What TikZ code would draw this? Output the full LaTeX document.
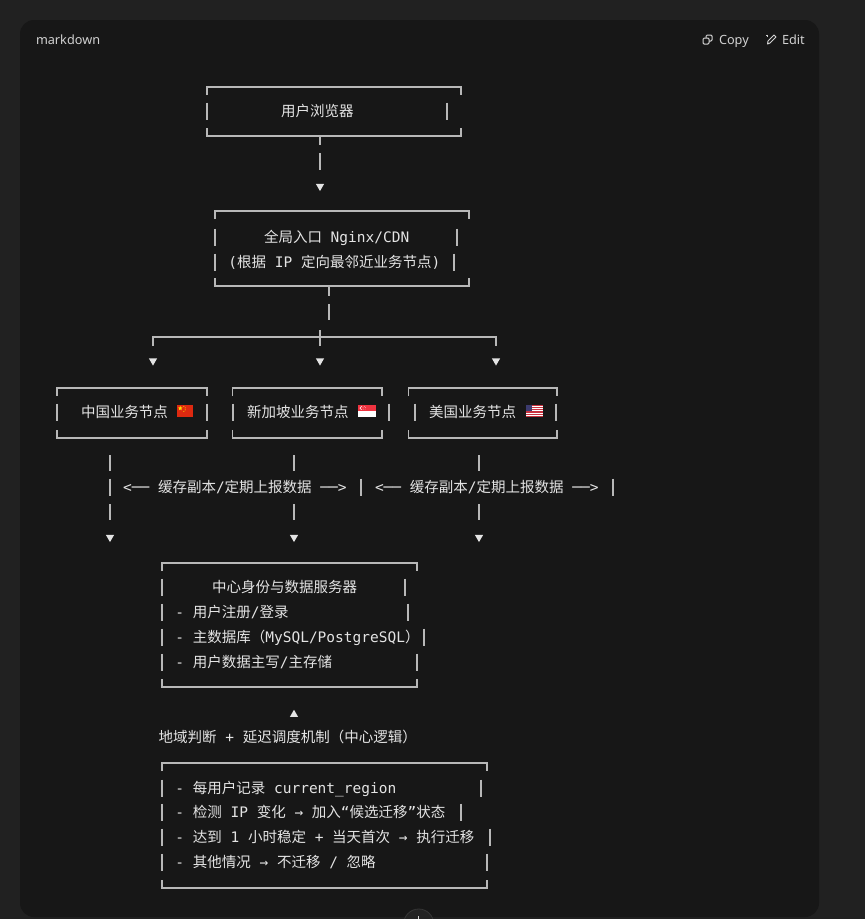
\documentclass[tikz,border=0pt]{standalone}
\usepackage{fontspec}
\setmonofont{DejaVu Sans Mono}
\newfontfamily\zhfont{Noto Sans CJK SC}
\newfontfamily\uifont{Noto Sans}
\usetikzlibrary{shapes.geometric,calc}
\newcommand\zh[1]{{\zhfont #1}}
\newcommand\monofs{\ttfamily\fontsize{14.5pt}{17pt}\selectfont}
\newcommand\sbar[2]{\draw[frm] (#1,#2) ++(0,-8.5) -- ++(0,17);}
\newcommand\asciiframe[1]{%
  \draw[frm] ([yshift=-8pt]#1.north west) -- (#1.north west) -- (#1.north east) -- ([yshift=-8pt]#1.north east);
  \draw[frm] ([yshift=8pt]#1.south west) -- (#1.south west) -- (#1.south east) -- ([yshift=8pt]#1.south east);}
\definecolor{bgout}{HTML}{212121}
\definecolor{panelc}{HTML}{171717}
\definecolor{txtc}{HTML}{E4E4E4}
\definecolor{frmc}{HTML}{B8B8B8}
\definecolor{uic}{HTML}{D2D2D2}
\definecolor{cnred}{HTML}{DE2910}
\definecolor{cnyel}{HTML}{FFDE00}
\definecolor{sgred}{HTML}{EF3340}
\definecolor{usred}{HTML}{C8313E}
\definecolor{usblue}{HTML}{3C3B6E}
\definecolor{btnc}{HTML}{232323}
\definecolor{btnb}{HTML}{363636}
\begin{document}
\begin{tikzpicture}[x=1pt,y=-1pt,
  frm/.style={draw=frmc, line width=1.2pt},
  conn/.style={draw=frmc, line width=1.2pt},
  boxarea/.style={rectangle, inner sep=0pt, outer sep=0pt, draw=none},
  txt/.style={anchor=base west, inner sep=0pt, outer sep=0pt, text=txtc, font=\monofs},
  tridown/.style={regular polygon, regular polygon sides=3, shape border rotate=180, fill=txtc, draw=none, inner sep=0pt, outer sep=0pt, minimum size=9.5pt},
  triup/.style={regular polygon, regular polygon sides=3, fill=txtc, draw=none, inner sep=0pt, outer sep=0pt, minimum size=9.5pt},
  ui/.style={anchor=base west, inner sep=0pt, outer sep=0pt, text=uic, font=\uifont\fontsize{12.7pt}{15pt}\selectfont}
]
\useasboundingbox (0,0) rectangle (865,919);
\fill[bgout] (0,0) rectangle (865,919);
\fill[panelc, rounded corners=14pt] (20,20) rectangle (819,917);

% header
\node[ui] (hdr) at (36,44.5) {markdown};
\node[ui] (copy) at (719,44.5) {Copy};
\node[ui] (edit) at (782,44.5) {Edit};
\draw[uic, line width=1pt, rounded corners=1.2pt] (706,35) rectangle (712,41);
\fill[panelc] (703,38) rectangle (709,44);
\draw[uic, line width=1pt, rounded corners=1.2pt] (703,38) rectangle (709,44);
\draw[uic, line width=1pt, line join=round] (767.5,44) -- (768,41) -- (774,35) -- (776,37) -- (770,43) -- cycle;
\draw[uic, line width=0.9pt] (766,35.5) -- (768,35.5) (767,34.5) -- (767,36.5);

% boxes
\node[boxarea, minimum width=254pt, minimum height=49pt] (b1) at (334,111.5) {};
\node[boxarea, minimum width=254pt, minimum height=75pt] (b2) at (342,248.5) {};
\node[boxarea, minimum width=150pt, minimum height=50pt] (bA) at (132,413) {};
\node[boxarea, minimum width=149.5pt, minimum height=50pt] (bB) at (307.25,413) {};
\node[boxarea, minimum width=148.5pt, minimum height=50pt] (bC) at (482.75,413) {};
\node[boxarea, minimum width=255pt, minimum height=124pt] (b4) at (289.5,625) {};
\node[boxarea, minimum width=325pt, minimum height=125pt] (b5) at (324.5,825.5) {};
\asciiframe{b1}
\asciiframe{b2}
\asciiframe{bA}
\asciiframe{bB}
\asciiframe{bC}
\asciiframe{b4}
\asciiframe{b5}

% side bars (text-row glyphs)
\sbar{207}{111}\sbar{447}{111}
\sbar{215}{237}\sbar{457}{237}
\sbar{215}{262}\sbar{454}{262}
\sbar{57}{412}\sbar{207}{412}
\sbar{233}{412}\sbar{389}{412}
\sbar{415}{412}\sbar{556}{412}
\sbar{162}{587}\sbar{405}{587}
\sbar{162}{612}\sbar{408}{612}
\sbar{162}{637}\sbar{424}{637}
\sbar{162}{662}\sbar{417}{662}
\sbar{162}{788}\sbar{481}{788}
\sbar{162}{812}\sbar{461}{812}
\sbar{162}{837}\sbar{490}{837}
\sbar{162}{862}\sbar{487}{862}
\sbar{110}{487}\sbar{361}{487}\sbar{613}{487}

% texts
\node[txt] (t1) at (281,116.3) {\zh{用户浏览器}};
\node[txt] (t2a) at (264,242.3) {\zh{全局入口} Nginx/CDN};
\node[txt] (t2b) at (228.4,267.3) {(\zh{根据} IP \zh{定向最邻近业务节点})};
\node[txt] (tA) at (81,417.3) {\zh{中国业务节点}};
\node[txt] (tB) at (247,417.3) {\zh{新加坡业务节点}};
\node[txt] (tC) at (429,417.3) {\zh{美国业务节点}};
\node[txt] (lab1) at (123.1,492.3) {<── \zh{缓存副本}/\zh{定期上报数据} ──>};
\node[txt] (lab2) at (375,492.3) {<── \zh{缓存副本}/\zh{定期上报数据} ──>};
\node[txt] (t4a) at (212,592.3) {\zh{中心身份与数据服务器}};
\node[txt] (t4b) at (175.4,617.3) {- \zh{用户注册}/\zh{登录}};
\node[txt] (t4c) at (175.4,642.3) {- \zh{主数据库（}MySQL/PostgreSQL\zh{）}};
\node[txt] (t4d) at (175.4,667.3) {- \zh{用户数据主写}/\zh{主存储}};
\node[txt] (lab3) at (158.7,742.3) {\zh{地域判断} + \zh{延迟调度机制（中心逻辑）}};
\node[txt] (t5a) at (175.4,793.3) {- \zh{每用户记录} current\_region};
\node[txt] (t5b) at (175.4,817.3) {- \zh{检测} IP \zh{变化} → \zh{加入}“\zh{候选迁移}”\zh{状态}};
\node[txt] (t5c) at (175.4,842.3) {- \zh{达到} 1 \zh{小时稳定} + \zh{当天首次} → \zh{执行迁移}};
\node[txt] (t5d) at (175.4,867.3) {- \zh{其他情况} → \zh{不迁移} / \zh{忽略}};

% flags
\fill[cnred] (177,405) rectangle (193,417);
\node[star, star points=5, star point ratio=2.4, fill=cnyel, inner sep=0pt, minimum size=5pt] (cnstar) at (180.3,408.3) {};
\foreach \p in {(183.8,406.4),(185.2,407.9),(185.2,409.9),(183.8,411.4)} \fill[cnyel] \p circle (0.55);
\fill[white] (358,411) rectangle (375.5,417);
\fill[sgred] (358,405) rectangle (375.5,411);
\fill[white] (361.4,408) circle (1.9);
\fill[sgred] (362.2,408) circle (1.7);
\foreach \q in {(364.3,406.6),(365.6,407.6),(365.1,409.1),(363.5,409.1),(363.0,407.6)} \fill[white] \q circle (0.35);
\fill[white] (525.5,405) rectangle (542.5,417);
\foreach \i in {0,2,4,6,8,10,12} \fill[usred] (525.5,{405+\i*12/13}) rectangle (542.5,{405+(\i+1)*12/13});
\fill[usblue] (525.5,405) rectangle (532.3,{405+7*12/13});

% arrows
\node[tridown] (ar0) at (320,186.3) {};
\node[tridown] (ar1) at (153,360.8) {};
\node[tridown] (ar2) at (320,360.8) {};
\node[tridown] (ar3) at (496,360.8) {};
\node[tridown] (dA) at (110,537.3) {};
\node[tridown] (dB) at (294,537.3) {};
\node[tridown] (dC) at (479,537.3) {};
\node[triup] (up) at (294,714.5) {};
\coordinate (j) at (320,337);

% connectors
\draw[conn, dash pattern=on 9pt off 8pt on 17pt off 40pt] (b1.south -| ar0) -- (ar0.north);
\draw[conn, dash pattern=on 10pt off 8pt on 16pt off 40pt] ([xshift=-13pt]b2.south) -- ([xshift=-13pt]b2.south |- j);
\draw[conn] (ar1 |- j) ++(0,9) -- (ar1 |- j) -- (ar3 |- j) -- ++(0,9);
\draw[conn] (j) ++(0,-7) -- ++(0,16);
\draw[conn, dash pattern=on 0pt off 17pt on 16pt off 8pt on 16pt off 9pt on 16pt off 40pt] (bA.south -| dA) -- (dA.north);
\draw[conn, dash pattern=on 0pt off 17pt on 16pt off 33pt on 16pt off 40pt] (bB.south -| dB) -- (dB.north);
\draw[conn, dash pattern=on 0pt off 17pt on 16pt off 33pt on 16pt off 40pt] (bC.south -| dC) -- (dC.north);

% bottom scroll button
\begin{scope}
\clip (0,0) rectangle (865,919);
\fill[btnc] (418.7,924) circle (15);
\draw[btnb, line width=0.8pt] (418.7,924) circle (15);
\draw[uic, line width=0.8pt] (418.7,916) -- (418.7,919);
\end{scope}
\end{tikzpicture}
\end{document}
